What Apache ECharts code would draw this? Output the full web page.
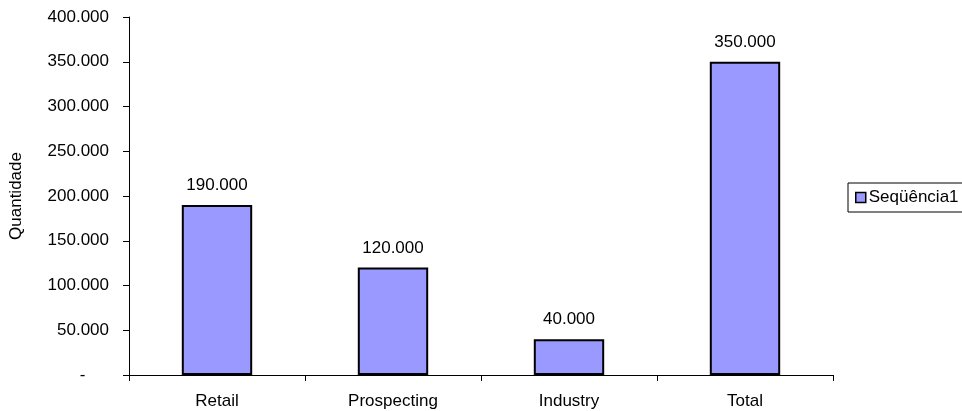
<!DOCTYPE html>
<html>
<head>
<meta charset="utf-8">
<script src="https://cdn.jsdelivr.net/npm/echarts@6/dist/echarts.min.js"></script>
<style>
html,body{margin:0;padding:0;background:#fff;}
#chart{width:962px;height:411px;}
</style>
</head>
<body>
<div id="chart"></div>
<script>
var categories = ['Retail', 'Prospecting', 'Industry', 'Total'];
var values = [190000, 120000, 40000, 350000];
var seriesName = 'Seqüência1';
var yAxisName = 'Quantidade';

function fmt(v) {
  if (v === 0) return '-     ';
  return String(v).replace(/\B(?=(\d{3})+(?!\d))/g, '.');
}

var FONT = 'Liberation Sans, Arial, sans-serif';
var FS = 17;
var chart = echarts.init(document.getElementById('chart'));
chart.setOption({
  animation: false,
  backgroundColor: '#fff',
  textStyle: { fontFamily: FONT, color: '#000' },
  grid: { left: 128, right: 129, top: 17, bottom: 36, containLabel: false },
  legend: {
    show: true,
    left: 848,
    top: 183,
    orient: 'vertical',
    borderColor: '#000',
    borderWidth: 1,
    padding: [6, 8, 6, 7],
    itemWidth: 10,
    itemHeight: 10,
    icon: 'rect',
    itemStyle: { borderColor: '#000', borderWidth: 1.5 },
    textStyle: { fontFamily: FONT, fontSize: FS, color: '#000', padding: [0, 0, 0, -2] },
    data: [seriesName]
  },
  xAxis: {
    type: 'category',
    data: categories,
    axisLine: { lineStyle: { color: '#000', width: 1 } },
    axisTick: { show: true, length: 6, lineStyle: { color: '#000' } },
    axisLabel: { fontFamily: FONT, fontSize: FS, color: '#000', margin: 18 }
  },
  yAxis: {
    type: 'value',
    min: 0,
    max: 400000,
    interval: 50000,
    name: yAxisName,
    nameLocation: 'middle',
    nameGap: 104,
    nameTextStyle: { fontFamily: FONT, fontSize: FS, color: '#000' },
    axisLine: { show: true, lineStyle: { color: '#000', width: 1 } },
    axisTick: { show: true, length: 6, lineStyle: { color: '#000' } },
    splitLine: { show: false },
    axisLabel: { fontFamily: FONT, fontSize: FS, color: '#000', margin: 20, formatter: fmt }
  },
  series: [{
    name: seriesName,
    type: 'bar',
    data: values,
    barWidth: '40%',
    itemStyle: { color: '#9999FF', borderColor: '#000', borderWidth: 2 },
    label: {
      show: true,
      position: 'top',
      distance: 11,
      fontFamily: FONT,
      fontSize: FS,
      color: '#000',
      formatter: function (p) { return fmt(p.value); }
    }
  }]
});
</script>
</body>
</html>
